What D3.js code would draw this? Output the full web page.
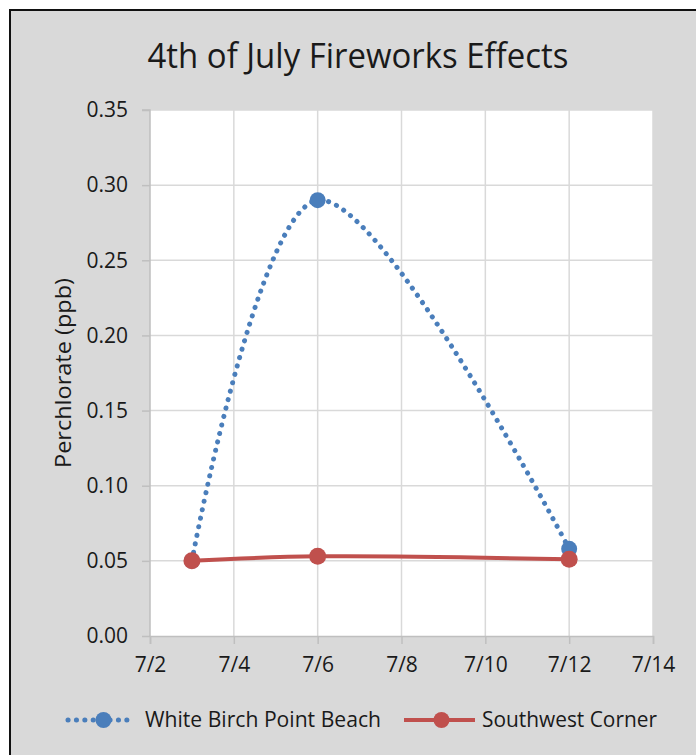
<!DOCTYPE html>
<html>
<head>
<meta charset="utf-8">
<script src="https://cdn.jsdelivr.net/npm/d3@7"></script>
<style>
  body { margin: 0; background: #fff; }
  text { font-family: "Open Sans", "Liberation Sans", sans-serif; fill: #1a1a1a; }
</style>
</head>
<body>
<div id="chart"></div>
<script>
// chart values
const days = [3, 6, 12];                       // July days sampled
const whiteBirch = [0.050, 0.290, 0.058];      // White Birch Point Beach
const southwest = [0.050, 0.053, 0.051];       // Southwest Corner
const xTicks = [2, 4, 6, 8, 10, 12, 14];
const yTicks = [0, 0.05, 0.10, 0.15, 0.20, 0.25, 0.30, 0.35];
const seriesNames = ['White Birch Point Beach', 'Southwest Corner'];

const width = 696, height = 755;
const plot = { left: 150, right: 653, top: 110, bottom: 636 };

const svg = d3.select('#chart').append('svg')
  .attr('width', width)
  .attr('height', height);

// chart area box
svg.append('rect')
  .attr('x', 10).attr('y', 10)
  .attr('width', width + 10).attr('height', height + 10)
  .attr('fill', '#d9d9d9')
  .attr('stroke', '#111')
  .attr('stroke-width', 2);

const x = d3.scaleLinear().domain([2, 14]).range([plot.left, plot.right]);
const y = d3.scaleLinear().domain([0, 0.35]).range([plot.bottom, plot.top]);

svg.append('rect')
  .attr('x', plot.left).attr('y', plot.top)
  .attr('width', plot.right - plot.left)
  .attr('height', plot.bottom - plot.top)
  .attr('fill', '#fff');

// gridlines
svg.append('g').selectAll('line').data(yTicks.slice(1)).enter().append('line')
  .attr('x1', plot.left).attr('x2', plot.right)
  .attr('y1', d => y(d)).attr('y2', d => y(d))
  .attr('stroke', '#d9d9d9').attr('stroke-width', 1.5);
svg.append('g').selectAll('line').data(xTicks.slice(1)).enter().append('line')
  .attr('x1', d => x(d)).attr('x2', d => x(d))
  .attr('y1', plot.top).attr('y2', plot.bottom)
  .attr('stroke', '#d9d9d9').attr('stroke-width', 1.5);

// axes
const yAxis = svg.append('g')
  .attr('transform', `translate(${plot.left},0)`)
  .call(d3.axisLeft(y).tickValues(yTicks).tickFormat(d3.format('.2f')).tickSize(8).tickPadding(14));
const xAxis = svg.append('g')
  .attr('transform', `translate(0,${plot.bottom})`)
  .call(d3.axisBottom(x).tickValues(xTicks).tickFormat(d => '7/' + d).tickSize(8).tickPadding(13));

[yAxis, xAxis].forEach(a => {
  a.select('.domain').attr('stroke', '#bfbfbf').attr('stroke-width', 1.5);
  a.selectAll('.tick line').attr('stroke', '#bfbfbf').attr('stroke-width', 1.5);
  a.selectAll('.tick text').attr('font-size', 21).attr('fill', '#1a1a1a')
    .style('font-family', '"Open Sans", sans-serif');
});
yAxis.select('.domain').attr('d', `M-8,${plot.top}H0V${plot.bottom}`);

// title
svg.append('text')
  .attr('x', 358).attr('y', 68)
  .attr('text-anchor', 'middle')
  .attr('font-size', 34)
  .attr('textLength', 421).attr('lengthAdjust', 'spacingAndGlyphs')
  .text('4th of July Fireworks Effects');

// y label
svg.append('text')
  .attr('transform', 'translate(71,373) rotate(-90)')
  .attr('text-anchor', 'middle')
  .attr('font-size', 21)
  .attr('textLength', 190).attr('lengthAdjust', 'spacingAndGlyphs')
  .text('Perchlorate (ppb)');

const line = d3.line()
  .x(d => x(d[0])).y(d => y(d[1]))
  .curve(d3.curveCatmullRom.alpha(0.5));

const blue = '#4a7ebb', red = '#c0504d';
const wb = days.map((d, i) => [d, whiteBirch[i]]);
const sw = days.map((d, i) => [d, southwest[i]]);

svg.append('path').datum(wb)
  .attr('d', line)
  .attr('fill', 'none')
  .attr('stroke', blue).attr('stroke-width', 5)
  .attr('stroke-linecap', 'round')
  .attr('stroke-dasharray', '0.1,8.6');
svg.append('g').selectAll('circle').data(wb).enter().append('circle')
  .attr('cx', d => x(d[0])).attr('cy', d => y(d[1]))
  .attr('r', 8).attr('fill', blue);

svg.append('path').datum(sw)
  .attr('d', line)
  .attr('fill', 'none')
  .attr('stroke', red).attr('stroke-width', 4);
svg.append('g').selectAll('circle').data(sw).enter().append('circle')
  .attr('cx', d => x(d[0])).attr('cy', d => y(d[1]))
  .attr('r', 8.5).attr('fill', red);

// legend
const legend = svg.append('g');
const legendItems = [
  { name: seriesNames[0], color: blue, x0: 68, x1: 135, dash: '0.1,8.3', tx: 145, len: 236 },
  { name: seriesNames[1], color: red, x0: 404, x1: 475, dash: null, tx: 482, len: 175 }
];
legendItems.forEach(it => {
  legend.append('line')
    .attr('x1', it.x0).attr('x2', it.x1)
    .attr('y1', 720).attr('y2', 720)
    .attr('stroke', it.color).attr('stroke-width', it.dash ? 5 : 4)
    .attr('stroke-linecap', it.dash ? 'round' : 'butt')
    .attr('stroke-dasharray', it.dash);
  legend.append('circle')
    .attr('cx', (it.x0 + it.x1) / 2 + 2).attr('cy', 720)
    .attr('r', 8).attr('fill', it.color);
  legend.append('text')
    .attr('x', it.tx).attr('y', 727)
    .attr('font-size', 21)
    .attr('textLength', it.len).attr('lengthAdjust', 'spacingAndGlyphs')
    .text(it.name);
});
</script>
</body>
</html>
